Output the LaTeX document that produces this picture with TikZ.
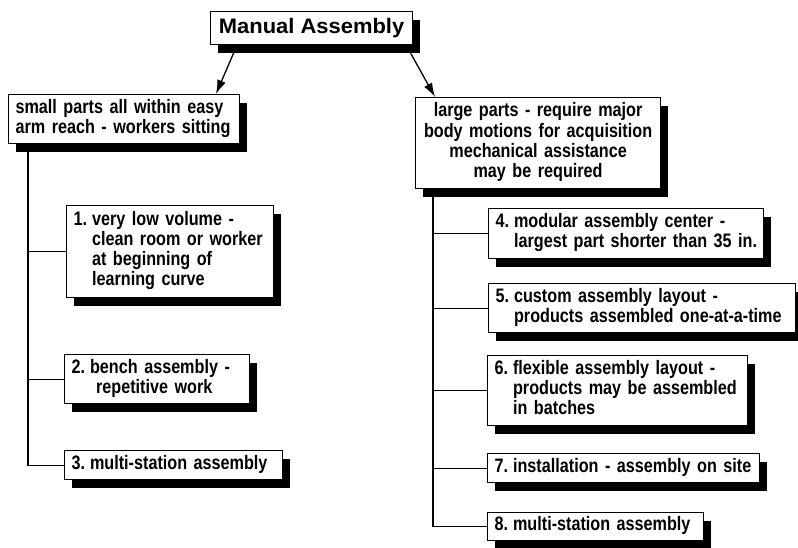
\documentclass[tikz,border=0pt]{standalone}
\usepackage{fontspec}
\setmainfont{Liberation Sans}[FakeStretch=0.83]
\newfontfamily\titlefont{Liberation Sans}[FakeStretch=1.045]
\usetikzlibrary{shadows,arrows.meta,calc}
\newcommand{\hg}{\hspace{5pt}}
\begin{document}
\frenchspacing
\begin{tikzpicture}[x=1pt,y=-1pt,
  box/.style={draw=black, line width=1.2pt, fill=white, anchor=north west,
    inner xsep=7pt, inner ysep=0pt,
    font=\fontsize{19.5}{20}\selectfont\bfseries\frenchspacing,
    drop shadow={shadow xshift=7pt, shadow yshift=-8pt, fill=black, opacity=1}},
  conn/.style={line width=1.2pt},
  arr/.style={line width=1.3pt, -{Latex[length=14pt,width=9pt]}}]
\useasboundingbox (0,0) rectangle (798,547);
\fill[white] (0,0) rectangle (798,547);

\node[box, minimum width=202pt, minimum height=33pt, inner xsep=0pt,
  font=\titlefont\fontsize{21}{24}\selectfont\bfseries] (top) at (210,11) {Manual Assembly};

\node[box, minimum width=231pt, minimum height=49pt, text width=217pt, align=left] (small) at (8,94)
  {\begin{tabular}{@{}l@{}}small parts all within easy\\arm reach - workers sitting\end{tabular}};

\node[box, minimum width=245pt, minimum height=91pt, text width=231pt, align=center] (large) at (415,97)
  {\begin{tabular}{@{}c@{}}large parts - require major\\body motions for acquisition\\mechanical assistance\\may be required\end{tabular}};

\node[box, minimum width=207pt, minimum height=92pt, text width=193pt, align=left] (b1) at (66,205)
  {\begin{tabular}{@{}l@{\hg}l@{}}1.& very low volume -\\ & clean room or worker\\ & at beginning of\\ & learning curve\end{tabular}};

\node[box, minimum width=185pt, minimum height=49pt, text width=171pt, align=left] (b2) at (64,354)
  {\begin{tabular}{@{}l@{\hg}l@{}}2.& bench assembly -\\ & \hspace{6pt}repetitive work\end{tabular}};

\node[box, minimum width=218pt, minimum height=29pt, text width=204pt, align=left] (b3) at (64,450)
  {\begin{tabular}{@{}l@{\hg}l@{}}3.& multi-station assembly\end{tabular}};

\node[box, minimum width=275pt, minimum height=50pt, text width=261pt, align=left] (b4) at (488,208)
  {\begin{tabular}{@{}l@{\hg}l@{}}4.& modular assembly center -\\ & largest part shorter than 35 in.\end{tabular}};

\node[box, minimum width=307pt, minimum height=49pt, text width=293pt, align=left] (b5) at (488,283)
  {\begin{tabular}{@{}l@{\hg}l@{}}5.& custom assembly layout -\\ & products assembled one-at-a-time\end{tabular}};

\node[box, minimum width=260pt, minimum height=70pt, text width=246pt, align=left] (b6) at (487,355)
  {\begin{tabular}{@{}l@{\hg}l@{}}6.& flexible assembly layout -\\ & products may be assembled\\ & in batches\end{tabular}};

\node[box, minimum width=272pt, minimum height=29pt, text width=258pt, align=left] (b7) at (487,453)
  {\begin{tabular}{@{}l@{\hg}l@{}}7.& installation - assembly on site\end{tabular}};

\node[box, minimum width=216pt, minimum height=28pt, text width=202pt, align=left] (b8) at (487,512)
  {\begin{tabular}{@{}l@{\hg}l@{}}8.& multi-station assembly\end{tabular}};

% arrows
\draw[arr] ($(top.south west)+(27,0)$) -- ($(small.north west)+(208,0)$);
\draw[arr] ($(top.south east)+(-7,0)$) -- ($(large.north west)+(20,0)$);

% left spine
\coordinate (ls) at ($(small.south west)+(20,0)$);
\draw[conn] (ls) |- (b3.west);
\draw[conn] (ls |- b1.west) -- (b1.west);
\draw[conn] (ls |- b2.west) -- (b2.west);

% right spine
\coordinate (rs) at ($(large.south west)+(18,0)$);
\draw[conn] (rs) |- (b8.west);
\draw[conn] (rs |- b4.west) -- (b4.west);
\draw[conn] (rs |- b5.west) -- (b5.west);
\draw[conn] (rs |- b6.west) -- (b6.west);
\draw[conn] (rs |- b7.west) -- (b7.west);
\end{tikzpicture}
\end{document}
